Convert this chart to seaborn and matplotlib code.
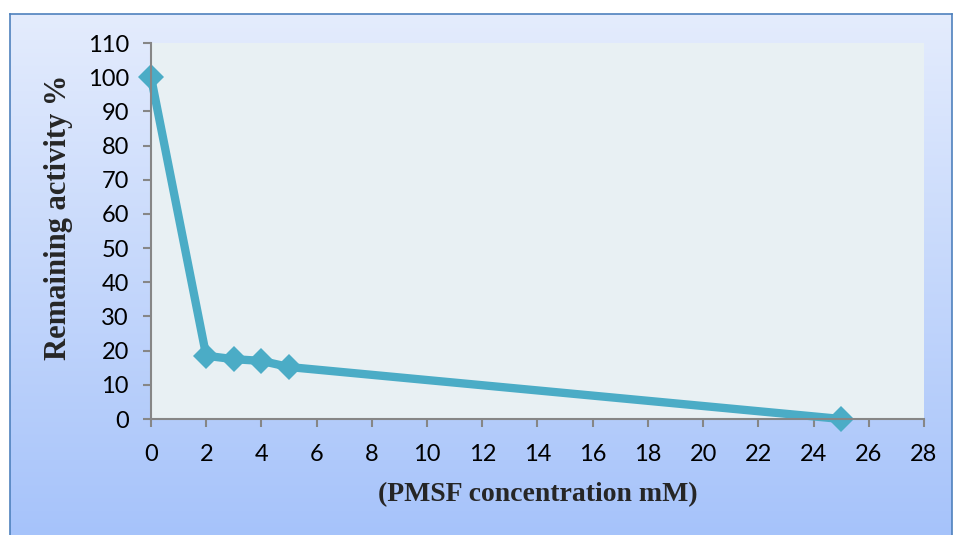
import numpy as np
import pandas as pd
import matplotlib
matplotlib.use("Agg")
import matplotlib.pyplot as plt
import seaborn as sns
from matplotlib.colors import LinearSegmentedColormap

conc = [0, 2, 3, 4, 5, 25]
activity = [100, 18.5, 17.5, 17, 15.2, 0]
x_ticks = list(range(0, 29, 2))
y_ticks = list(range(0, 111, 10))

sns.set_theme(style="white")
plt.rcParams['font.family'] = ['Lato', 'DejaVu Sans']

W, H = 954, 535
fig = plt.figure(figsize=(W/100, H/100), dpi=100)
fig.patch.set_facecolor('white')

# background gradient box
bg = fig.add_axes([10/W, -2/H, 942/W, (H-12)/H])
cmap = LinearSegmentedColormap.from_list('g', ['#E4ECFD', '#A6C3FA'])
grad = np.linspace(0, 1, 256).reshape(-1, 1)
bg.imshow(grad, aspect='auto', cmap=cmap, extent=[0, 1, 0, 1], origin='upper')
bg.set_xticks([]); bg.set_yticks([])
for s in bg.spines.values():
    s.set_color('#4F81BD'); s.set_linewidth(1.2)
bg.set_zorder(0)

ax = fig.add_axes([151/W, 1-419/H, (924-151)/W, (419-43)/H])
ax.set_zorder(1)
ax.set_facecolor('#E8F0F3')

df = pd.DataFrame({'conc': conc, 'activity': activity})
sns.lineplot(data=df, x='conc', y='activity', ax=ax, color='#4BACC6',
             linewidth=6, marker='D', markersize=13, markeredgewidth=0,
             clip_on=False)

ax.set_xlim(0, 28)
ax.set_ylim(0, 110)
ax.set_xticks(x_ticks)
ax.set_yticks(y_ticks)
ax.tick_params(axis='both', which='both', direction='out', length=6, width=1.5,
               color='#868686', labelsize=17, labelcolor='black', pad=10,
               bottom=True, left=True)
ax.tick_params(axis='x', pad=12)
for side in ['top', 'right']:
    ax.spines[side].set_visible(False)
for side in ['left', 'bottom']:
    ax.spines[side].set_color('#868686')
    ax.spines[side].set_linewidth(1.5)

ax.set_xlabel('(PMSF concentration mM)', fontsize=20, fontweight='bold',
              family=['Liberation Serif', 'DejaVu Serif'], labelpad=12)
ax.set_ylabel('Remaining activity %', fontsize=22, fontweight='bold',
              family=['Liberation Serif', 'DejaVu Serif'])
ax.yaxis.set_label_coords(-0.101, 0.537)

fig.savefig('out.png', dpi=100)
